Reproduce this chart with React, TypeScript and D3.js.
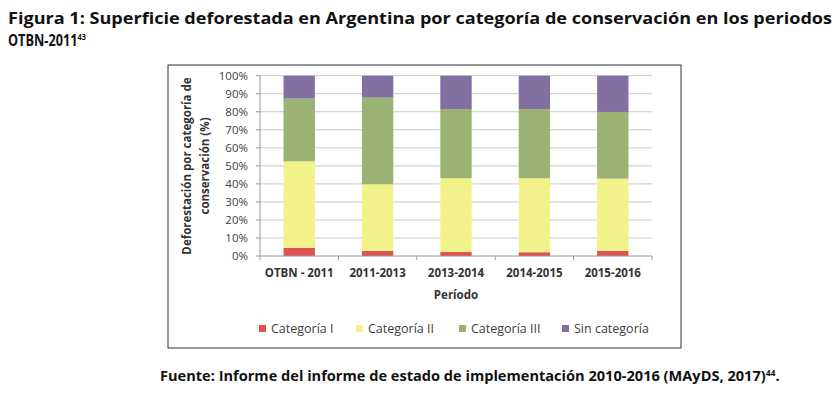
import React from "react";
import * as d3 from "d3";

const periods = ["OTBN - 2011", "2011-2013", "2013-2014", "2014-2015", "2015-2016"];
const seriesNames = ["Categoría I", "Categoría II", "Categoría III", "Sin categoría"];
const catI = [4.6, 2.8, 2.2, 2.1, 2.8];
const catII = [47.9, 37.0, 40.9, 41.0, 40.1];
const catIII = [34.8, 48.0, 38.4, 38.4, 37.0];
const sinCat = [12.7, 12.2, 18.5, 18.5, 20.1];
const yTicks = [0, 10, 20, 30, 40, 50, 60, 70, 80, 90, 100];
const colors = ["#E0514F", "#F2F28A", "#9BB372", "#8270A0"];

export default function App() {
  const left = 260, right = 652, top = 75.7, bottom = 256;
  const x = d3.scaleBand<string>().domain(periods).range([left, right]).paddingInner(0.6).paddingOuter(0.3);
  const xb = d3.scaleBand<string>().domain(periods).range([left, right]);
  const y = d3.scaleLinear().domain([0, 100]).range([bottom, top]);
  const rows = periods.map((p, i) => ({ p, v: [catI[i], catII[i], catIII[i], sinCat[i]] }));
  const stack = d3.stack<any, number>().keys([0, 1, 2, 3]).value((d, k) => d.v[k]);
  const layers = stack(rows as any);
  const chartFont = "'Open Sans', 'Liberation Sans', sans-serif";
  const legendX = [262, 359, 462, 565];
  return (
    <svg width={838} height={395} style={{ position: "absolute", left: 0, top: 0, background: "#fff" }}>
      <text x={8} y={24} fontFamily="'Open Sans', sans-serif" fontWeight={700} fontSize={15.5} textLength={824} lengthAdjust="spacingAndGlyphs" fill="#111">
        Figura 1: Superficie deforestada en Argentina por categoría de conservación en los periodos
      </text>
      <g transform="translate(8,46) scale(0.82,1)">
        <text x={0} y={0} fontFamily="'Open Sans', sans-serif" fontWeight={700} fontSize={15.5} fill="#111">
          OTBN-2011<tspan fontSize={9} dy={-6}>43</tspan>
        </text>
      </g>
      <rect x={168} y={65} width={513} height={283} fill="#fff" stroke="#333" strokeWidth={1} />
      {yTicks.map((t) => (
        <g key={t}>
          {t > 0 && <line x1={left} x2={right} y1={y(t)} y2={y(t)} stroke="#c9c9c9" strokeWidth={1} />}
          <line x1={left - 4} x2={left} y1={y(t)} y2={y(t)} stroke="#999" />
          <text x={248} y={y(t) + 4} textAnchor="end" fontFamily={chartFont} fontSize={11.5} fill="#404040">{t}%</text>
        </g>
      ))}
      {layers.map((layer, k) =>
        layer.map((d, i) => (
          <rect key={k + "-" + i} x={x(periods[i])} width={x.bandwidth()} y={y(d[1])} height={y(d[0]) - y(d[1])} fill={colors[k]} />
        ))
      )}
      <line x1={left} x2={left} y1={top} y2={bottom} stroke="#999" />
      <line x1={left} x2={right} y1={bottom} y2={bottom} stroke="#999" />
      {periods.map((p) => (
        <line key={p} x1={(xb(p) as number) + xb.bandwidth()} x2={(xb(p) as number) + xb.bandwidth()} y1={bottom} y2={bottom + 4} stroke="#999" />
      ))}
      <line x1={left} x2={left} y1={bottom} y2={bottom + 4} stroke="#999" />
      {periods.map((p) => (
        <text key={p} x={(xb(p) as number) + xb.bandwidth() / 2} y={277} textAnchor="middle" fontFamily={chartFont} fontWeight={700} fontSize={11.5} fill="#333">{p}</text>
      ))}
      <text x={456} y={299} textAnchor="middle" fontFamily={chartFont} fontWeight={700} fontSize={11.5} fill="#333">Período</text>
      <g transform="translate(191,166) rotate(-90)">
        <text x={0} y={0} textAnchor="middle" fontFamily={chartFont} fontWeight={700} fontSize={11.5} fill="#333">Deforestación por categoría de</text>
        <text x={0} y={18} textAnchor="middle" fontFamily={chartFont} fontWeight={700} fontSize={11.5} fill="#333">conservación (%)</text>
      </g>
      {seriesNames.map((s, k) => (
        <g key={s}>
          <rect x={legendX[k] - 3} y={325} width={7} height={7} fill={colors[k]} />
          <text x={legendX[k] + 9} y={333} fontFamily={chartFont} fontSize={12.5} fill="#404040">{s}</text>
        </g>
      ))}
      <g transform="translate(160,381) scale(1.08,1)">
        <text x={0} y={0} fontFamily="'Open Sans', sans-serif" fontWeight={700} fontSize={13.5} fill="#111">
          Fuente: Informe del informe de estado de implementación 2010-2016 (MAyDS, 2017)<tspan fontSize={8} dy={-5}>44</tspan><tspan dy={5}>.</tspan>
        </text>
      </g>
    </svg>
  );
}
